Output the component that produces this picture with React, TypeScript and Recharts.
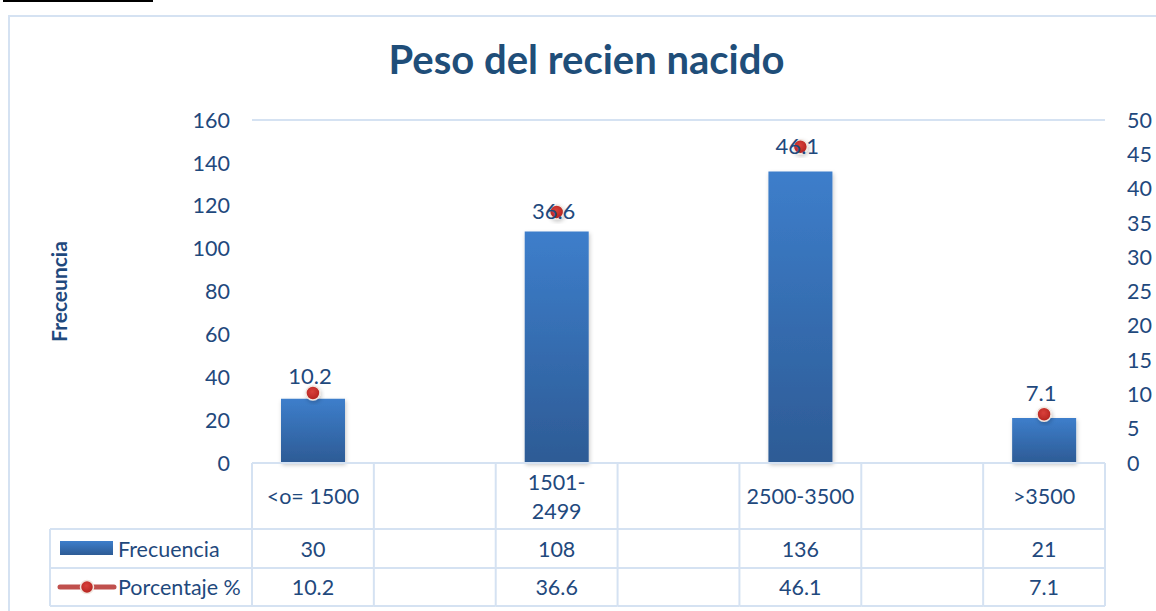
import React from "react";
import {
  ComposedChart,
  Bar,
  Line,
  XAxis,
  YAxis,
  CartesianGrid,
  LabelList,
} from "recharts";

// every other slot is an empty category, as in the source sheet
const categories = ["<o= 1500", "", "1501-\n2499", "", "2500-3500", "", ">3500"];
const frecuencia = [30, null, 108, null, 136, null, 21];
const porcentaje = [10.2, null, 36.6, null, 46.1, null, 7.1];
const leftTicks = [0, 20, 40, 60, 80, 100, 120, 140, 160];
const rightTicks = [0, 5, 10, 15, 20, 25, 30, 35, 40, 45, 50];

const data = categories.map((name, i) => ({
  name,
  frecuencia: frecuencia[i],
  porcentaje: porcentaje[i],
}));

const W = 1156;
const H = 611;
const PLOT_LEFT = 252;
const PLOT_RIGHT = 1105;
const BAND = (PLOT_RIGHT - PLOT_LEFT) / categories.length;
const TABLE_LEFT = 50;
const ROWS = [0, 66, 105, 143];

const TEXT = "#1f497d";
const GRID = "#d5e2f2";
const FONT = "Lato, 'Open Sans', sans-serif";

// per-point label nudges (Excel placed some labels over the marker)
const labelDy = [-9, 0, 7, 0, 7, 0, -13];

function TableTick(props: any) {
  const { x, y, payload } = props;
  const i = payload.index;
  const left = x - BAND / 2;
  const right = x + BAND / 2;
  const lines = String(categories[i]).split("\n");
  const f = frecuencia[i];
  const p = porcentaje[i];
  const ts = { fill: TEXT, fontSize: 21.5, fontFamily: FONT };

  return (
    <g>
      {ROWS.map((r) => (
        <line key={r} x1={left} x2={right} y1={y + r} y2={y + r} stroke={GRID} strokeWidth={2} />
      ))}
      <line x1={left} x2={left} y1={y} y2={y + ROWS[3]} stroke={GRID} strokeWidth={2} />
      {i === categories.length - 1 && (
        <line x1={right} x2={right} y1={y} y2={y + ROWS[3]} stroke={GRID} strokeWidth={2} />
      )}
      {lines.map((l, k) => (
        <text
          key={k}
          x={x}
          y={y + 33 + (k - (lines.length - 1) / 2) * 29}
          textAnchor="middle"
          dominantBaseline="central"
          {...ts}
        >
          {l}
        </text>
      ))}
      {f != null && (
        <text x={x} y={y + 86} textAnchor="middle" dominantBaseline="central" {...ts}>
          {f}
        </text>
      )}
      {p != null && (
        <text x={x} y={y + 124} textAnchor="middle" dominantBaseline="central" {...ts}>
          {p}
        </text>
      )}
      {i === 0 && (
        <g>
          {ROWS.slice(1).map((r) => (
            <line key={r} x1={TABLE_LEFT} x2={left} y1={y + r} y2={y + r} stroke={GRID} strokeWidth={2} />
          ))}
          <line x1={TABLE_LEFT} x2={TABLE_LEFT} y1={y + ROWS[1]} y2={y + ROWS[3]} stroke={GRID} strokeWidth={2} />
          <rect x={60} y={y + 78} width={53} height={14} fill="url(#barGrad)" />
          <text x={118} y={y + 86} dominantBaseline="central" {...ts}>
            Frecuencia
          </text>
          <line x1={60} x2={114} y1={y + 124} y2={y + 124} stroke="#c0504d" strokeWidth={5} strokeLinecap="round" />
          <circle cx={87} cy={y + 124} r={6.5} fill="url(#dotGrad)" stroke="#f1e6df" strokeWidth={1.5} />
          <text x={118} y={y + 124} dominantBaseline="central" {...ts}>
            Porcentaje %
          </text>
        </g>
      )}
    </g>
  );
}

function PctLabel(props: any) {
  const { x, y, value, index } = props;
  if (value == null) return null;
  return (
    <text
      x={x - 3}
      y={y + labelDy[index]}
      textAnchor="middle"
      fill={TEXT}
      fontSize={22}
      fontFamily={FONT}
    >
      {value}
    </text>
  );
}

export default function App() {
  return (
    <div
      style={{
        position: "absolute",
        left: 0,
        top: 0,
        width: W,
        height: H,
        background: "#fff",
        overflow: "hidden",
        fontFamily: FONT,
      }}
    >
      <div style={{ position: "absolute", left: 3, top: 0, width: 150, height: 2, background: "#000" }} />
      <div
        style={{
          position: "absolute",
          left: 8,
          top: 15,
          width: W,
          height: H,
          border: `2px solid ${GRID}`,
        }}
      />
      <div
        style={{
          position: "absolute",
          left: 0,
          width: 1173,
          top: 35,
          lineHeight: "48px",
          textAlign: "center",
          color: "#1f4e79",
          fontWeight: 700,
          fontSize: 40,
          fontFamily: FONT,
        }}
      >
        Peso del recien nacido
      </div>
      <div style={{ position: "absolute", left: 0, top: 0 }}>
        <ComposedChart
          width={W}
          height={H}
          data={data}
          margin={{ top: 120, right: 0, bottom: 5, left: 0 }}
          barCategoryGap={0}
        >
          <defs>
            <linearGradient id="barGrad" x1="0" y1="0" x2="0" y2="1">
              <stop offset="0%" stopColor="#3d7ecb" />
              <stop offset="100%" stopColor="#2d5b95" />
            </linearGradient>
            <radialGradient id="dotGrad" cx="45%" cy="40%" r="60%">
              <stop offset="0%" stopColor="#d9403a" />
              <stop offset="100%" stopColor="#b3231f" />
            </radialGradient>
            <filter id="soft" x="-30%" y="-30%" width="160%" height="160%">
              <feDropShadow dx="1" dy="2" stdDeviation="2" floodColor="#000" floodOpacity="0.22" />
            </filter>
          </defs>
          <CartesianGrid vertical={false} stroke={GRID} strokeWidth={2} />
          <XAxis
            dataKey="name"
            xAxisId={0}
            height={143}
            axisLine={false}
            tickLine={false}
            tickSize={0}
            tickMargin={0}
            interval={0}
            tick={<TableTick />}
          />
          <YAxis
            yAxisId="left"
            orientation="left"
            width={252}
            domain={[0, 160]}
            ticks={leftTicks}
            axisLine={false}
            tickLine={false}
            tickSize={0}
            tickMargin={22}
            tick={{ fill: TEXT, fontSize: 21.5, fontFamily: FONT }}
            label={{
              content: (p: any) => {
                const vb = p.viewBox || {};
                const cy = (vb.y ?? 120) + (vb.height ?? 343) / 2;
                return (
                  <text
                    x={58}
                    y={cy}
                    transform={`rotate(-90 58 ${cy})`}
                    textAnchor="middle"
                    dominantBaseline="central"
                    fill={TEXT}
                    fontSize={21}
                    fontWeight={700}
                    fontFamily={FONT}
                  >
                    Freceuncia
                  </text>
                );
              },
            }}
          />
          <YAxis
            yAxisId="right"
            orientation="right"
            width={51}
            domain={[0, 50]}
            ticks={rightTicks}
            axisLine={false}
            tickLine={false}
            tickSize={0}
            tickMargin={22}
            tick={{ fill: TEXT, fontSize: 21.5, fontFamily: FONT, textAnchor: "start" }}
          />
          <Bar
            yAxisId="left"
            dataKey="frecuencia"
            name="Frecuencia"
            fill="url(#barGrad)"
            barSize={64}
            filter="url(#soft)"
            isAnimationActive={false}
          />
          <Line
            yAxisId="right"
            dataKey="porcentaje"
            name="Porcentaje %"
            stroke="none"
            dot={{ r: 7, fill: "url(#dotGrad)", stroke: "#f1e6df", strokeWidth: 1.5, filter: "url(#soft)" }}
            activeDot={false}
            isAnimationActive={false}
          >
            <LabelList dataKey="porcentaje" content={<PctLabel />} />
          </Line>
        </ComposedChart>
      </div>
    </div>
  );
}
